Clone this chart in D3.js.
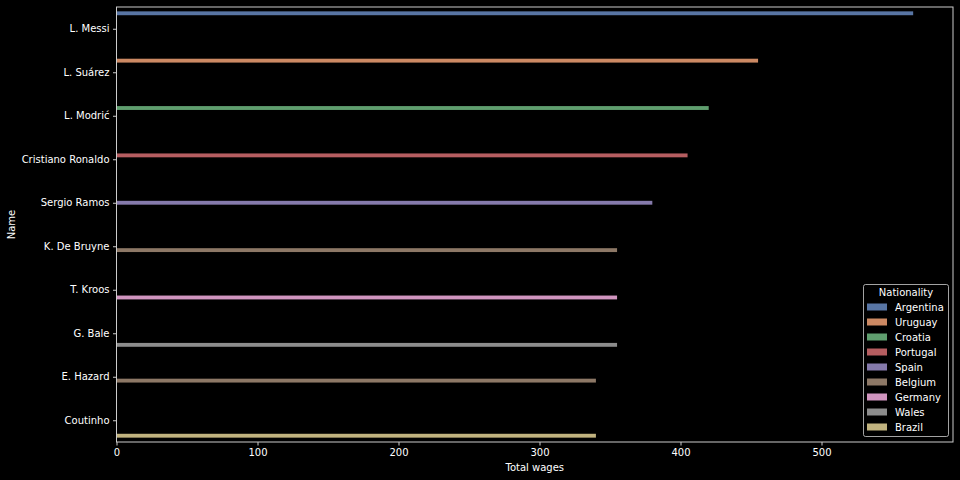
<!DOCTYPE html>
<html>
<head>
<meta charset="utf-8">
<script src="https://cdn.jsdelivr.net/npm/d3@7"></script>
<style>
html,body{margin:0;padding:0;background:#000;}
svg{display:block;}
text{font-family:"DejaVu Sans",sans-serif;}
</style>
</head>
<body>
<svg id="chart" width="960" height="480"></svg>
<script>
const names = ["L. Messi","L. Suárez","L. Modrić","Cristiano Ronaldo","Sergio Ramos","K. De Bruyne","T. Kroos","G. Bale","E. Hazard","Coutinho"];
const nationality = ["Argentina","Uruguay","Croatia","Portugal","Spain","Belgium","Germany","Wales","Belgium","Brazil"];
const wages = [565,455,420,405,380,355,355,355,340,340];
const hueOrder = ["Argentina","Uruguay","Croatia","Portugal","Spain","Belgium","Germany","Wales","Brazil"];
const hueColors = ["#5875a4","#cc8963","#5f9e6e","#b55d60","#857aab","#8d7866","#d095bf","#8c8c8c","#c1b37f"];
const xTicks = [0,100,200,300,400,500];

(function(){
const svg = d3.select("#chart");
const mL = 116.5, mR = 953, mT = 7, mB = 442;
const fg = "#ffffff", spine = "#cccccc";

const x = d3.scaleLinear().domain([0, d3.max(wages)*1.05]).range([mL, mR]);
const y = d3.scaleLinear().domain([-0.5, names.length-0.5]).range([mT, mB]);
const color = d3.scaleOrdinal().domain(hueOrder).range(hueColors);
const slot = 0.8/hueOrder.length;

const data = names.map((n,i)=>({name:n, nat:nationality[i], wage:wages[i], i}));

svg.append("g").selectAll("rect").data(data).join("rect")
  .attr("x", x(0))
  .attr("y", d => y(d.i - 0.4 + hueOrder.indexOf(d.nat)*slot))
  .attr("width", d => x(d.wage) - x(0))
  .attr("height", d => y(slot) - y(0))
  .attr("fill", d => color(d.nat));

svg.append("rect").attr("x", mL).attr("y", mT).attr("width", mR-mL).attr("height", mB-mT)
  .attr("fill","none").attr("stroke", spine).attr("stroke-width", 1);

const xAxis = d3.axisBottom(x).tickValues(xTicks).tickSize(3.5).tickPadding(3.5).tickFormat(d3.format("d"));
const gx = svg.append("g").attr("transform", `translate(0,${mB})`).call(xAxis);
gx.select(".domain").remove();
gx.selectAll("line").attr("stroke", spine);
gx.selectAll("text").attr("fill", fg).attr("font-size", 10).attr("font-family","DejaVu Sans");

const yAxis = d3.axisLeft(y).tickValues(d3.range(names.length)).tickSize(3.5).tickPadding(3.5).tickFormat(i => names[i]);
const gy = svg.append("g").attr("transform", `translate(${mL},0)`).call(yAxis);
gy.select(".domain").remove();
gy.selectAll("line").attr("stroke", spine);
gy.selectAll("text").attr("fill", fg).attr("font-size", 10).attr("font-family","DejaVu Sans");

svg.append("text").attr("x", (mL+mR)/2).attr("y", 471).attr("text-anchor","middle")
  .attr("fill", fg).attr("font-size", 10).text("Total wages");
svg.append("text").attr("transform", `translate(15,${(mT+mB)/2}) rotate(-90)`).attr("text-anchor","middle")
  .attr("fill", fg).attr("font-size", 10).text("Name");

const lg = svg.append("g");
lg.append("rect").attr("x", 863.5).attr("y", 284.5).attr("width", 85).attr("height", 152).attr("rx", 2)
  .attr("fill", "#000").attr("fill-opacity", 0.8).attr("stroke", "#cccccc").attr("stroke-opacity", 0.8);
lg.append("text").attr("x", 906).attr("y", 295.5).attr("text-anchor","middle").attr("fill", fg)
  .attr("font-size", 10).text("Nationality");
const items = lg.selectAll("g.item").data(hueOrder).join("g").attr("class","item")
  .attr("transform", (d,i) => `translate(0,${307 + i*15})`);
items.append("rect").attr("x", 867).attr("y", -3.5).attr("width", 20).attr("height", 7).attr("fill", d => color(d));
items.append("text").attr("x", 895).attr("y", 3.6).attr("fill", fg).attr("font-size", 10).text(d => d);
})();
</script>
</body>
</html>
